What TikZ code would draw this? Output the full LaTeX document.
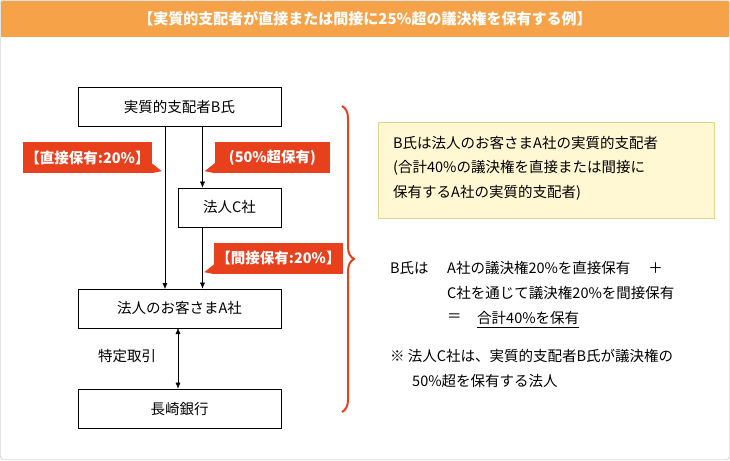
\documentclass[tikz,border=0pt]{standalone}
\usepackage{fontspec}
\setmainfont{Noto Sans CJK JP}
\usetikzlibrary{arrows.meta,decorations.pathreplacing}
\definecolor{hdr}{HTML}{F6A248}
\definecolor{tagred}{HTML}{E8401C}
\definecolor{notebg}{HTML}{FFF8D2}
\definecolor{noteline}{HTML}{E6D68C}
\tikzset{
  entity/.style={draw=black, thick, minimum width=203pt, minimum height=39pt, font=\fontsize{14.5}{16}\selectfont},
  tag/.style={fill=tagred, text=white, inner sep=2pt, minimum height=31pt, font=\fontsize{14.5}{16}\selectfont\bfseries},
  txt/.style={anchor=west, inner sep=0pt, font=\fontsize{14.5}{16}\selectfont},
  flow/.style={-{Latex[length=6pt,width=5pt]}, thin}
}
\begin{document}
\begin{tikzpicture}[x=1pt,y=-1pt]
            \useasboundingbox (0,0) rectangle (730,460);
            \draw[gray!60, rounded corners=3pt] (0.5,0.5) rectangle (729.5,459.5);
            \fill[hdr] (1,1) rectangle (729,37);
            \node[text=white, font=\fontsize{15}{17}\selectfont\bfseries] (title) at (365,19) {【実質的支配者が直接または間接に25\%超の議決権を保有する例】};

            \node[entity] (B) at (179.5,106.5) {実質的支配者B氏};
            \node[entity, minimum width=103pt] (C) at (229.5,207.5) {法人C社};
            \node[entity] (A) at (179.5,308.5) {法人のお客さまA社};
            \node[entity] (bank) at (179.5,408.5) {長崎銀行};

            \node[tag, minimum width=125pt] (t1) at (87.5,157.5) {【直接保有:20\%】};
            \node[tag, minimum width=115pt] (t2) at (272.5,157.5) {(50\%超保有)};
            \node[tag, minimum width=127pt] (t3) at (278.5,258.5) {【間接保有:20\%】};
            \fill[tagred] (t1.south east) -- ++(0,-10) -- ++(10,8) -- cycle;
            \fill[tagred] (t2.south west) -- ++(0,-10) -- ++(-10,8) -- cycle;
            \fill[tagred] (t3.south west) -- ++(0,-10) -- ++(-10,8) -- cycle;

            %Archi

            \coordinate (bl) at (165,126);
            \coordinate (al) at (165,289);
            \draw[flow] (bl) -- (al);
            \draw[flow] (B.south -| C.north) ++(-27,0) coordinate (br) -- (br |- C.north);
            \draw[flow] (C.south) ++(-27,0) coordinate (cr) -- (cr |- A.north);
            \draw[{Latex[length=6pt,width=5pt]}-{Latex[length=6pt,width=5pt]}] (178,328) coordinate (ab) -- (ab |- bank.north);
            \node[txt] (deal) at (98,356) {特定取引};

            \draw[tagred, line width=2pt, decorate, decoration={brace, amplitude=12pt}] (342,106) -- (342,412);

            \draw[noteline, fill=notebg] (378,122) rectangle (714,218);
            \node[txt] (n1) at (393,143) {B氏は法人のお客さまA社の実質的支配者};
            \node[txt] (n2) at (393,168) {(合計40\%の議決権を直接または間接に};
            \node[txt] (n3) at (393,193) {保有するA社の実質的支配者)};

            \node[txt] (s0) at (390,268) {B氏は};
            \node[txt] (s1) at (447,268) {A社の議決権20\%を直接保有\hspace{18pt}＋};
            \node[txt] (s2) at (447,293) {C社を通じて議決権20\%を間接保有};
            \node[txt] (s3) at (447,318) {＝};
            \node[txt] (s4) at (477,318) {合計40\%を保有};
            \draw[thick] ([yshift=-3pt]s4.south west) -- ([yshift=-3pt]s4.south east);

            \node[txt] (m1) at (390,356) {※ 法人C社は、実質的支配者B氏が議決権の};
            \node[txt] (m2) at (412,381) {50\%超を保有する法人};
        \end{tikzpicture}
\end{document}
